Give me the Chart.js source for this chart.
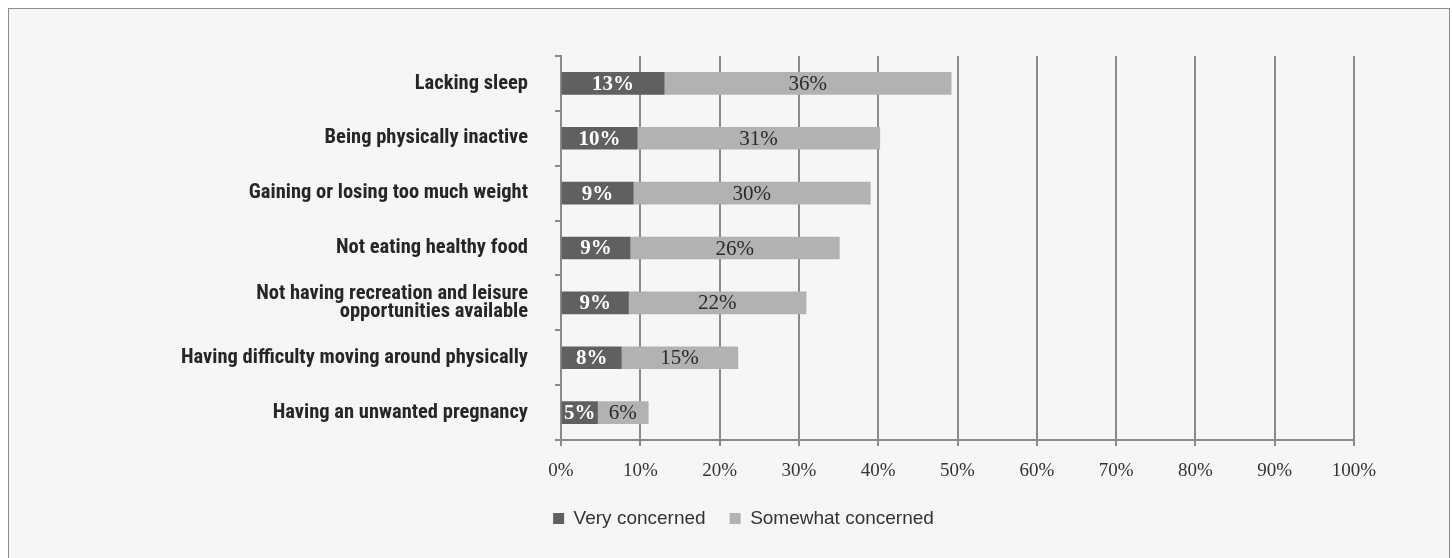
<!DOCTYPE html>
<html>
<head>
<meta charset="utf-8">
<script src="https://cdn.jsdelivr.net/npm/chart.js@4/dist/chart.umd.min.js"></script>
<style>
  html, body { margin: 0; padding: 0; background: #ffffff; }
  #frame { position: absolute; left: 8px; top: 8px; width: 1440px; height: 550px; border: 1px solid #8c8c8c; background: #f6f6f6; }
  #wrap { position: absolute; left: 0; top: 0; width: 1452px; height: 558px; }
</style>
</head>
<body>
<div id="frame"></div>
<div id="wrap"><canvas id="c" width="1452" height="558"></canvas></div>
<script>
const categories = [
  "Lacking sleep",
  "Being physically inactive",
  "Gaining or losing too much weight",
  "Not eating healthy food",
  ["Not having recreation and leisure", "opportunities available"],
  "Having difficulty moving around physically",
  "Having an unwanted pregnancy"
];
const veryConcerned = [13.0, 9.6, 9.1, 8.7, 8.5, 7.6, 4.6];
const somewhatConcerned = [36.2, 30.6, 29.9, 26.4, 22.4, 14.7, 6.4];
const veryLabels = ["13%", "10%", "9%", "9%", "9%", "8%", "5%"];
const somewhatLabels = ["36%", "31%", "30%", "26%", "22%", "15%", "6%"];
const xTicks = [0, 10, 20, 30, 40, 50, 60, 70, 80, 90, 100];

const gridColor = "#8a8a8a";

const barLabels = {
  id: "barLabels",
  afterDatasetsDraw(chart) {
    const ctx = chart.ctx;
    const texts = [veryLabels, somewhatLabels];
    chart.data.datasets.forEach((ds, di) => {
      const meta = chart.getDatasetMeta(di);
      meta.data.forEach((bar, i) => {
        const cx = (bar.x + bar.base) / 2;
        ctx.save();
        ctx.textAlign = "center";
        ctx.textBaseline = "middle";
        if (di === 0) {
          ctx.font = "bold 21px 'Liberation Serif', serif";
          ctx.fillStyle = "#ffffff";
        } else {
          ctx.font = "21px 'Liberation Serif', serif";
          ctx.fillStyle = "#2a2a2a";
        }
        ctx.fillText(texts[di][i], cx, bar.y + 1);
        ctx.restore();
      });
    });
  }
};

new Chart(document.getElementById("c"), {
  type: "bar",
  data: {
    labels: categories,
    datasets: [
      { label: "Very concerned", data: veryConcerned, backgroundColor: "#606060", barThickness: 22 },
      { label: "Somewhat concerned", data: somewhatConcerned, backgroundColor: "#b2b2b2", barThickness: 22 }
    ]
  },
  options: {
    indexAxis: "y",
    responsive: false,
    animation: false,
    layout: { padding: { left: 133, right: 98, top: 56, bottom: 20 } },
    scales: {
      x: {
        stacked: true,
        min: 0,
        max: 100,
        afterBuildTicks(axis) { axis.ticks = xTicks.map(v => ({ value: v })); },
        afterFit(axis) { axis.height = 45; },
        ticks: {
          callback: v => v + "%",
          font: { family: "'Liberation Serif', serif", size: 19 },
          color: "#333333",
          padding: 14,
          maxRotation: 0
        },
        grid: { color: gridColor, lineWidth: 2, tickLength: 6, drawTicks: true },
        border: { color: gridColor, width: 2 }
      },
      y: {
        stacked: true,
        afterFit(axis) { axis.width = 428; },
        ticks: {
          font: { family: "'Liberation Sans Narrow', 'Roboto Condensed', 'Liberation Sans', sans-serif", size: 20.5, weight: "bold", lineHeight: 0.9 },
          color: "#262626",
          padding: 27
        },
        grid: { offset: true, drawOnChartArea: false, drawTicks: true, tickLength: 6, color: gridColor, lineWidth: 2 },
        border: { color: gridColor, width: 2 }
      }
    },
    plugins: {
      legend: {
        position: "bottom",
        align: "center",
        labels: {
          boxWidth: 11,
          boxHeight: 11,
          padding: 24,
          color: "#333333",
          font: { family: "'Liberation Sans', Arial, sans-serif", size: 19 }
        }
      },
      tooltip: { enabled: false }
    }
  },
  plugins: [barLabels]
});
</script>
</body>
</html>
